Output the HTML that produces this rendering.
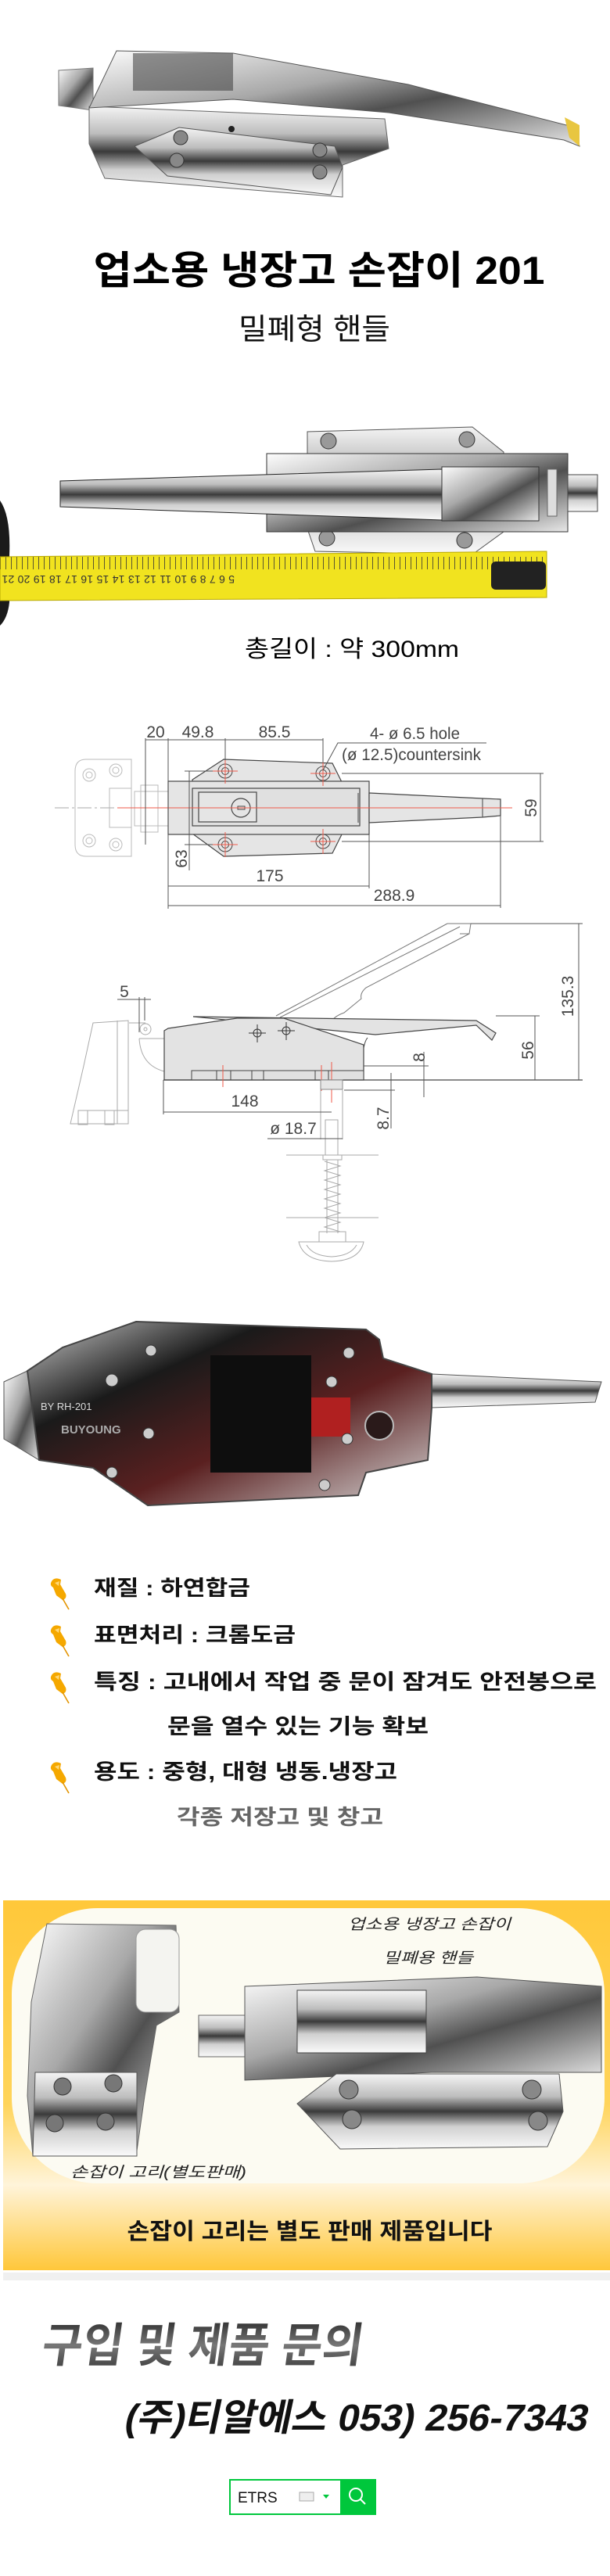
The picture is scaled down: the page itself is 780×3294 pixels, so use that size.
<!DOCTYPE html>
<html><head><meta charset="utf-8">
<style>
html,body{margin:0;padding:0;background:#fff;}
svg{display:block;}
.k{font-family:"Liberation Sans","Noto Sans CJK KR",sans-serif;}
.d{font-family:"Liberation Sans",sans-serif;font-size:21px;fill:#444;}
</style></head>
<body>
<svg width="780" height="3294" viewBox="0 0 780 3294" xmlns="http://www.w3.org/2000/svg">
<defs>
<linearGradient id="chr" x1="0" y1="0" x2="0" y2="1">
<stop offset="0" stop-color="#f4f4f4"/><stop offset="0.3" stop-color="#bdbdbd"/><stop offset="0.5" stop-color="#3a3a3a"/><stop offset="0.7" stop-color="#d0d0d0"/><stop offset="1" stop-color="#fafafa"/></linearGradient>
<linearGradient id="chr2" x1="0" y1="0" x2="1" y2="1">
<stop offset="0" stop-color="#fdfdfd"/><stop offset="0.4" stop-color="#a8a8a8"/><stop offset="0.6" stop-color="#505050"/><stop offset="1" stop-color="#e8e8e8"/></linearGradient>
<linearGradient id="dark" x1="0" y1="0" x2="1" y2="1">
<stop offset="0" stop-color="#c9c9c9"/><stop offset="0.3" stop-color="#1a1a1a"/><stop offset="0.6" stop-color="#5a2020"/><stop offset="1" stop-color="#d8d8d8"/></linearGradient>
<linearGradient id="ybox" x1="0" y1="0" x2="0" y2="1">
<stop offset="0" stop-color="#ffc83a"/><stop offset="0.55" stop-color="#ffd45a"/><stop offset="0.77" stop-color="#fff4da"/><stop offset="1" stop-color="#ffc73a"/></linearGradient>
<linearGradient id="gtxt" x1="0" y1="0" x2="0" y2="1">
<stop offset="0" stop-color="#2c2c2c"/><stop offset="0.5" stop-color="#777"/><stop offset="1" stop-color="#3a3a3a"/></linearGradient>
<pattern id="ticks" x="0" y="0" width="7" height="60" patternUnits="userSpaceOnUse">
<rect width="7" height="60" fill="#f1e31f"/><line x1="0.5" y1="0" x2="0.5" y2="8" stroke="#333" stroke-width="0.8"/><line x1="0.5" y1="52" x2="0.5" y2="60" stroke="#333" stroke-width="0.8"/></pattern>
<g id="pin">
<path d="M2,4 Q6,-2 14,2 L13,8 L20,20 Q22,26 16,28 L8,22 L4,12 Q-1,9 2,4 Z" fill="#f5a800"/>
<path d="M6,6 L12,4 L11,10 Z" fill="#ffd877"/>
<line x1="16" y1="26" x2="24" y2="40" stroke="#e39400" stroke-width="1.6"/>
</g>
</defs>

<!-- PHOTO 1 -->
<g>
<polygon points="75,90 119,87 119,141 75,135" fill="url(#chr2)" stroke="#777"/>
<polygon points="114,136 492,152 497,190 438,211 438,252 134,228 114,184" fill="url(#chr)" stroke="#666"/>
<polygon points="149,65 298,68 522,108 736,163 741,187 721,179 497,144 298,127 114,138" fill="url(#chr2)" stroke="#555"/>
<rect x="170" y="68" width="128" height="48" fill="#3d3d3d" opacity="0.55"/>
<polygon points="172,187 229,163 428,187 438,214 423,249 214,225" fill="url(#chr)" stroke="#555"/>
<circle cx="231" cy="176" r="9" fill="#888" stroke="#333"/><circle cx="226" cy="205" r="9" fill="#888" stroke="#333"/>
<circle cx="409" cy="192" r="9" fill="#888" stroke="#333"/><circle cx="409" cy="220" r="9" fill="#888" stroke="#333"/>
<circle cx="296" cy="165" r="4" fill="#222"/>
<polygon points="722,150 741,160 741,187 728,176" fill="#e8c640"/>
</g>

<text x="408" y="363" text-anchor="middle" class="k" font-size="50" font-weight="bold" fill="#000" textLength="577" lengthAdjust="spacingAndGlyphs">업소용 냉장고 손잡이 201</text>
<text x="402" y="434" text-anchor="middle" class="k" font-size="38" fill="#111" textLength="194" lengthAdjust="spacingAndGlyphs">밀폐형 핸들</text>

<!-- PHOTO 2 -->
<g>
<polygon points="393,552 604,546 644,578 644,680 604,709 403,705 393,676" fill="url(#chr)" stroke="#555"/>
<circle cx="420" cy="564" r="10" fill="#999" stroke="#333"/><circle cx="597" cy="562" r="10" fill="#999" stroke="#333"/>
<circle cx="418" cy="688" r="10" fill="#999" stroke="#333"/><circle cx="594" cy="691" r="10" fill="#999" stroke="#333"/>
<rect x="341" y="580" width="385" height="100" fill="url(#chr2)" stroke="#333"/>
<rect x="726" y="607" width="38" height="47" fill="url(#chr)" stroke="#444"/>
<polygon points="77,615 565,600 565,665 77,648" fill="url(#chr)" stroke="#222"/>
<rect x="565" y="597" width="124" height="69" fill="url(#chr2)" stroke="#333"/>
<rect x="700" y="600" width="12" height="60" fill="#ddd" stroke="#666"/>
</g>
<path d="M0,640 Q14,660 12,710 L12,770 Q10,790 0,800 Z" fill="#1a1a1a"/>
<polygon points="0,712 699,705 699,764 0,768" fill="url(#ticks)" stroke="#b8a800"/>
<rect x="628" y="718" width="70" height="36" rx="6" fill="#222"/>
<text x="300" y="744" class="k" font-size="14" fill="#333" transform="rotate(180 300 740)" textLength="560" lengthAdjust="spacing">5 6 7 8 9 10 11 12 13 14 15 16 17 18 19 20 21 22 23 24 25 26 27 28 29 30 31 32 33 34</text>

<text x="450" y="840" text-anchor="middle" class="k" font-size="30" fill="#000" textLength="274" lengthAdjust="spacingAndGlyphs">총길이 : 약 300mm</text>

<!-- TECH DRAWING TOP VIEW -->
<g fill="none" stroke="#bbb" stroke-width="1">
<path d="M110,971 L168,971 L168,1095 L110,1095 Q96,1095 96,1080 L96,986 Q96,971 110,971 Z"/>
<circle cx="114" cy="991" r="8"/><circle cx="114" cy="991" r="4"/>
<circle cx="148" cy="985" r="8"/><circle cx="148" cy="985" r="4"/>
<circle cx="114" cy="1075" r="8"/><circle cx="114" cy="1075" r="4"/>
<circle cx="148" cy="1080" r="8"/><circle cx="148" cy="1080" r="4"/>
<rect x="140" y="1008" width="28" height="50"/>
<rect x="172" y="1012" width="43" height="44"/>
<rect x="180" y="1004" width="22" height="60"/>
</g>
<line x1="70" y1="1033" x2="150" y2="1033" stroke="#aaa" stroke-dasharray="18,4,3,4"/>
<g stroke="#444" stroke-width="1.2" fill="#e5e5e5">
<polygon points="246,997 286,971 425,976 437,1000 437,1067 425,1091 286,1095 246,1066"/>
<rect x="215" y="999" width="257" height="68"/>
<polygon points="472,1014 617,1021 640,1022 640,1043 617,1045 472,1052"/>
<rect x="246" y="1008" width="214" height="48" fill="#e0e0e0"/>
<rect x="254" y="1013" width="74" height="38" fill="#e5e5e5"/>
<circle cx="308" cy="1033" r="12" fill="#e5e5e5"/>
</g>
<rect x="304" y="1031" width="9" height="4" fill="none" stroke="#444"/>
<line x1="617" y1="1021" x2="617" y2="1045" stroke="#444"/>
<line x1="458" y1="1014" x2="458" y2="1052" stroke="#444"/>
<g stroke="#444" stroke-width="1" fill="#e5e5e5">
<circle cx="288" cy="986" r="9"/><circle cx="288" cy="986" r="4.5"/>
<circle cx="413" cy="989" r="9"/><circle cx="413" cy="989" r="4.5"/>
<circle cx="288" cy="1080" r="9"/><circle cx="288" cy="1080" r="4.5"/>
<circle cx="413" cy="1076" r="9"/><circle cx="413" cy="1076" r="4.5"/>
</g>
<g stroke="#ef5a4a" stroke-width="1">
<line x1="150" y1="1033" x2="655" y2="1033"/>
<line x1="272" y1="986" x2="304" y2="986"/><line x1="288" y1="970" x2="288" y2="1002"/>
<line x1="397" y1="989" x2="429" y2="989"/><line x1="413" y1="973" x2="413" y2="1005"/>
<line x1="272" y1="1080" x2="304" y2="1080"/><line x1="288" y1="1064" x2="288" y2="1096"/>
<line x1="397" y1="1076" x2="429" y2="1076"/><line x1="413" y1="1060" x2="413" y2="1092"/>
</g>
<g stroke="#555" stroke-width="1" fill="none">
<line x1="186" y1="946" x2="413" y2="946"/>
<line x1="186" y1="944" x2="186" y2="1080"/>
<line x1="215" y1="944" x2="215" y2="1162"/>
<line x1="288" y1="944" x2="288" y2="972"/>
<line x1="413" y1="944" x2="413" y2="975"/>
<polyline points="413,985 432,950 622,950"/>
<line x1="437" y1="989" x2="695" y2="989"/>
<line x1="437" y1="1076" x2="695" y2="1076"/>
<line x1="691" y1="989" x2="691" y2="1076"/>
<line x1="242" y1="986" x2="242" y2="1113"/>
<line x1="236" y1="986" x2="272" y2="986"/>
<line x1="236" y1="1080" x2="272" y2="1080"/>
<line x1="215" y1="1133" x2="472" y2="1133"/>
<line x1="472" y1="1067" x2="472" y2="1136"/>
<line x1="215" y1="1158" x2="640" y2="1158"/>
<line x1="640" y1="1043" x2="640" y2="1161"/>
</g>
<text x="199" y="943" text-anchor="middle" class="d">20</text>
<text x="253" y="943" text-anchor="middle" class="d">49.8</text>
<text x="351" y="943" text-anchor="middle" class="d">85.5</text>
<text x="473" y="945" class="d" textLength="115" lengthAdjust="spacingAndGlyphs">4- ø 6.5 hole</text>
<text x="437" y="972" class="d" textLength="178" lengthAdjust="spacingAndGlyphs">(ø 12.5)countersink</text>
<text x="686" y="1033" text-anchor="middle" class="d" transform="rotate(-90 686 1033)">59</text>
<text x="239" y="1098" text-anchor="middle" class="d" transform="rotate(-90 239 1098)">63</text>
<text x="345" y="1127" text-anchor="middle" class="d">175</text>
<text x="504" y="1152" text-anchor="middle" class="d">288.9</text>

<!-- SIDE VIEW -->
<g fill="none" stroke="#aaa" stroke-width="1">
<path d="M119,1308 L164,1305 L164,1437 L90,1437 L107,1363 Z"/>
<line x1="150" y1="1305" x2="150" y2="1437"/>
<line x1="100" y1="1420" x2="164" y2="1420"/>
<rect x="100" y="1420" width="12" height="18"/><rect x="134" y="1420" width="12" height="18"/>
<circle cx="186" cy="1316" r="7"/><circle cx="186" cy="1316" r="2"/>
<path d="M165,1308 L186,1308"/>
<path d="M178,1328 L210,1328 M178,1328 Q180,1362 210,1370"/>
</g>
<g fill="none" stroke="#777" stroke-width="1">
<line x1="353" y1="1299" x2="572" y2="1181"/>
<line x1="358" y1="1301" x2="588" y2="1185"/>
<polyline points="572,1181 602,1181 600,1194 588,1194"/>
<path d="M423,1308 Q426,1300 440,1295 L462,1277 Q460,1270 468,1263 L600,1194"/>
</g>
<g stroke="#444" stroke-width="1.2" fill="#e3e3e3">
<polygon points="247,1300 609,1305 634,1321 629,1330 609,1311 480,1323 Q466,1326 465,1340 L363,1302 L247,1303"/>
<polygon points="210,1381 210,1318 215,1315 303,1302 363,1302 465,1336 465,1381"/>
</g>
<path d="M470,1327 Q467,1330 465,1340" fill="none" stroke="#444"/>
<g stroke="#444" stroke-width="1" fill="#e0e0e0">
<rect x="245" y="1369" width="220" height="12"/>
</g>
<g stroke="#444" stroke-width="1">
<line x1="277" y1="1369" x2="277" y2="1381"/><line x1="295" y1="1369" x2="295" y2="1381"/>
<line x1="322" y1="1369" x2="322" y2="1381"/><line x1="337" y1="1369" x2="337" y2="1381"/>
<line x1="403" y1="1369" x2="403" y2="1381"/><line x1="420" y1="1369" x2="420" y2="1381"/>
</g>
<g stroke="#333" fill="none" stroke-width="1">
<circle cx="329" cy="1321" r="5"/><line x1="318" y1="1321" x2="340" y2="1321"/><line x1="329" y1="1310" x2="329" y2="1333"/>
<circle cx="366" cy="1318" r="5"/><line x1="355" y1="1318" x2="377" y2="1318"/><line x1="366" y1="1307" x2="366" y2="1330"/>
</g>
<line x1="209" y1="1381" x2="745" y2="1381" stroke="#444" stroke-width="1.2"/>
<g stroke="#ef5a4a" stroke-width="1">
<line x1="285" y1="1362" x2="285" y2="1390"/><line x1="411" y1="1362" x2="411" y2="1395"/><line x1="424" y1="1358" x2="424" y2="1410"/>
</g>
<g stroke="#888" stroke-width="1" fill="#e6e6e6">
<rect x="410" y="1381" width="28" height="12"/>
</g>
<g stroke="#aaa" stroke-width="1" fill="none">
<line x1="410" y1="1393" x2="410" y2="1457"/><line x1="438" y1="1393" x2="438" y2="1457"/>
<rect x="416" y="1432" width="16" height="45"/>
<line x1="366" y1="1477" x2="484" y2="1477"/>
<rect x="413" y="1477" width="24" height="6"/>
<path d="M415,1485 L435,1491 L415,1497 L435,1503 L415,1509 L435,1515 L415,1521 L435,1527 L415,1533 L435,1539 L415,1545 L435,1551 L415,1557 L435,1563 L415,1569 L435,1575"/>
<line x1="418" y1="1483" x2="418" y2="1577"/><line x1="432" y1="1483" x2="432" y2="1577"/>
<line x1="366" y1="1557" x2="484" y2="1557"/>
<rect x="408" y="1575" width="34" height="13"/>
<path d="M382,1588 L465,1588 Q460,1612 424,1613 Q388,1612 382,1588 Z"/>
<path d="M392,1592 Q400,1606 424,1607 Q448,1606 456,1592"/>
</g>
<g stroke="#555" stroke-width="1" fill="none">
<line x1="150" y1="1278" x2="193" y2="1278"/>
<line x1="178" y1="1275" x2="178" y2="1320"/><line x1="185" y1="1275" x2="185" y2="1305"/>
<line x1="602" y1="1181" x2="745" y2="1181"/>
<line x1="740" y1="1181" x2="740" y2="1381"/>
<line x1="634" y1="1299" x2="690" y2="1299"/>
<line x1="684" y1="1299" x2="684" y2="1381"/>
<line x1="465" y1="1363" x2="548" y2="1363"/>
<line x1="542" y1="1345" x2="542" y2="1403"/>
<line x1="440" y1="1394" x2="505" y2="1394"/>
<line x1="500" y1="1372" x2="500" y2="1443"/>
<line x1="209" y1="1381" x2="209" y2="1425"/>
<line x1="209" y1="1422" x2="424" y2="1422"/>
<line x1="342" y1="1456" x2="438" y2="1456"/>
</g>
<text x="159" y="1275" text-anchor="middle" class="d">5</text>
<text x="733" y="1274" text-anchor="middle" class="d" transform="rotate(-90 733 1274)">135.3</text>
<text x="682" y="1343" text-anchor="middle" class="d" transform="rotate(-90 682 1343)">56</text>
<text x="543" y="1352" text-anchor="middle" class="d" transform="rotate(-90 543 1352)">8</text>
<text x="497" y="1430" text-anchor="middle" class="d" transform="rotate(-90 497 1430)">8.7</text>
<text x="313" y="1415" text-anchor="middle" class="d">148</text>
<text x="375" y="1450" text-anchor="middle" class="d">ø 18.7</text>

<!-- PHOTO 3 -->
<polygon points="552,1757 769,1767 761,1793 552,1800" fill="url(#chr)" stroke="#555"/>
<polygon points="5,1767 35,1753 50,1867 5,1840" fill="url(#chr2)" stroke="#555"/>
<polygon points="174,1690 468,1700 485,1713 490,1737 552,1757 552,1800 547,1867 468,1883 458,1912 189,1925 119,1877 50,1867 35,1753 80,1723" fill="url(#dark)" stroke="#444" stroke-width="2"/>
<rect x="269" y="1733" width="129" height="150" fill="#0e0e0e"/>
<rect x="398" y="1787" width="50" height="50" fill="#b02020"/>
<circle cx="485" cy="1823" r="18" fill="#2a1a1a" stroke="#bbb" stroke-width="2"/>
<g fill="#ccc" stroke="#333"><circle cx="190" cy="1833" r="7"/><circle cx="444" cy="1840" r="7"/><circle cx="143" cy="1883" r="7"/><circle cx="415" cy="1899" r="7"/><circle cx="143" cy="1765" r="8"/><circle cx="424" cy="1767" r="7"/><circle cx="193" cy="1727" r="7"/><circle cx="446" cy="1730" r="7"/></g>
<text x="52" y="1803" class="k" font-size="13" fill="#ddd">BY RH-201</text>
<text x="78" y="1833" class="k" font-size="15" fill="#aaa" font-weight="bold">BUYOUNG</text>

<!-- BULLETS -->
<use href="#pin" x="64" y="2018"/>
<use href="#pin" x="64" y="2078"/>
<use href="#pin" x="64" y="2138"/>
<use href="#pin" x="64" y="2253"/>
<g class="k" font-size="27" font-weight="bold" fill="#111">
<text x="120" y="2040" textLength="200" lengthAdjust="spacingAndGlyphs">재질 : 하연합금</text>
<text x="120" y="2100" textLength="258" lengthAdjust="spacingAndGlyphs">표면처리 : 크롬도금</text>
<text x="120" y="2160" textLength="643" lengthAdjust="spacingAndGlyphs">특징 : 고내에서 작업 중 문이 잠겨도 안전봉으로</text>
<text x="214" y="2217" textLength="334" lengthAdjust="spacingAndGlyphs">문을 열수 있는 기능 확보</text>
<text x="120" y="2275" textLength="388" lengthAdjust="spacingAndGlyphs">용도 : 중형, 대형 냉동.냉장고</text>
<text x="226" y="2333" fill="#666" textLength="264" lengthAdjust="spacingAndGlyphs">각종 저장고 및 창고</text>
</g>

<!-- YELLOW BOX -->
<rect x="4" y="2906" width="776" height="10" fill="#e6e6e6" opacity="0.6"/>
<rect x="4" y="2430" width="776" height="473" fill="url(#ybox)"/>
<rect x="15" y="2440" width="758" height="352" rx="110" fill="#fcfbf2"/>
<polygon points="60,2460 225,2462 229,2573 200,2590 185,2680 175,2750 42,2757 35,2680 40,2560" fill="url(#chr2)" stroke="#666"/>
<rect x="174" y="2467" width="55" height="106" rx="12" fill="#f4f4f0" stroke="#999"/>
<polygon points="45,2650 175,2650 175,2757 42,2757" fill="url(#chr)" stroke="#555"/>
<g fill="#777" stroke="#333"><circle cx="80" cy="2668" r="11"/><circle cx="145" cy="2664" r="11"/><circle cx="70" cy="2715" r="11"/><circle cx="135" cy="2713" r="11"/></g>
<polygon points="254,2577 313,2577 313,2630 254,2630" fill="url(#chr)" stroke="#666"/>
<polygon points="313,2540 610,2528 769,2540 769,2650 552,2650 313,2660" fill="url(#chr2)" stroke="#555"/>
<rect x="380" y="2545" width="165" height="80" fill="url(#chr)" stroke="#444"/>
<polygon points="380,2690 430,2652 715,2652 720,2700 700,2745 435,2748" fill="url(#chr)" stroke="#555"/>
<g fill="#888" stroke="#333"><circle cx="446" cy="2672" r="12"/><circle cx="450" cy="2710" r="12"/><circle cx="680" cy="2672" r="12"/><circle cx="688" cy="2712" r="12"/></g>
<g class="k" font-size="19" fill="#222" font-style="italic">
<text x="445" y="2467" textLength="208" lengthAdjust="spacingAndGlyphs">업소용 냉장고 손잡이</text>
<text x="490" y="2510" textLength="115" lengthAdjust="spacingAndGlyphs">밀폐용 핸들</text>
<text x="90" y="2784" textLength="225" lengthAdjust="spacingAndGlyphs">손잡이 고리(별도판매)</text>
</g>
<text x="396" y="2863" text-anchor="middle" class="k" font-size="29" font-weight="bold" fill="#111" textLength="467" lengthAdjust="spacingAndGlyphs">손잡이 고리는 별도 판매 제품입니다</text>

<!-- CONTACT -->
<text x="52" y="3020" class="k" font-size="60" font-weight="bold" fill="url(#gtxt)" textLength="410" lengthAdjust="spacingAndGlyphs" transform="translate(424 0) skewX(-8)">구입 및 제품 문의</text>
<text x="158" y="3108" class="k" font-size="48" font-weight="bold" fill="#111" textLength="592" lengthAdjust="spacingAndGlyphs" transform="translate(660 0) skewX(-12)">(주)티알에스 053) 256-7343</text>

<!-- ETRS -->
<rect x="294" y="3171" width="186" height="44" fill="#fff" stroke="#00c73c" stroke-width="2"/>
<rect x="435" y="3170" width="46" height="46" fill="#00c73c"/>
<text x="304" y="3200" font-family="Liberation Sans,sans-serif" font-size="19" fill="#111">ETRS</text>
<rect x="383" y="3187" width="18" height="11" fill="#eee" stroke="#aaa"/>
<polygon points="413,3190 421,3190 417,3195" fill="#00c73c"/>
<circle cx="455" cy="3190" r="8" fill="none" stroke="#fff" stroke-width="2"/>
<line x1="461" y1="3196" x2="467" y2="3202" stroke="#fff" stroke-width="2"/>
</svg>
</body></html>
